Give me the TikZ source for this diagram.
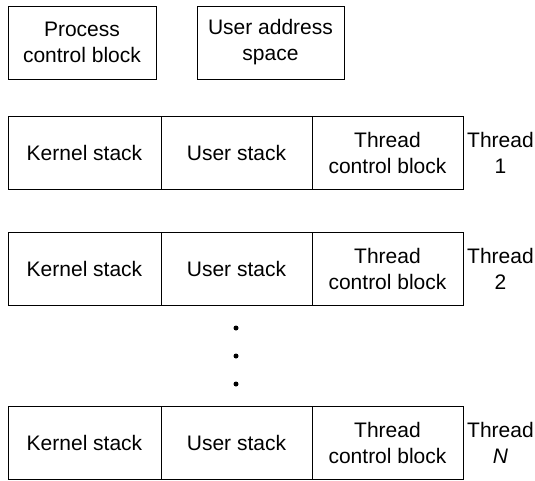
\documentclass[tikz,border=0pt]{standalone}
\usepackage{fontspec}
\setmainfont{Liberation Sans}
\begin{document}
\begin{tikzpicture}[x=1pt,y=-1pt,
  txt/.style={inner sep=0pt, align=center, font=\fontsize{21}{26}\selectfont},
  box/.style={txt, draw, line width=1pt, minimum height=73pt},
  dotmark/.style={circle, fill, inner sep=0pt, minimum size=5pt}]
\useasboundingbox (0,0) rectangle (535,480);
% top boxes
\node[box, minimum width=148pt] (pcb) at (82,42.5) {Process\\control block};
\node[box, minimum width=147pt] (uas) at (270.5,42.5) {User address\\space};
% rows
\foreach \r/\y/\lab in {1/152.5/1, 2/268.5/2, 3/442.5/\textit{N}} {
  \node[box, minimum width=153pt] (k\r) at (84.5,\y) {Kernel stack};
  \node[box, minimum width=151pt] (u\r) at (236.5,\y) {User stack};
  \node[box, minimum width=151pt] (t\r) at (387.5,\y) {Thread\\control block};
  \node[txt] (l\r) at (500.5,\y) {Thread\\\lab};
}
% dots
\node[dotmark] (d1) at (236,328) {};
\node[dotmark] (d2) at (236,356) {};
\node[dotmark] (d3) at (236,384) {};
\end{tikzpicture}
\end{document}
